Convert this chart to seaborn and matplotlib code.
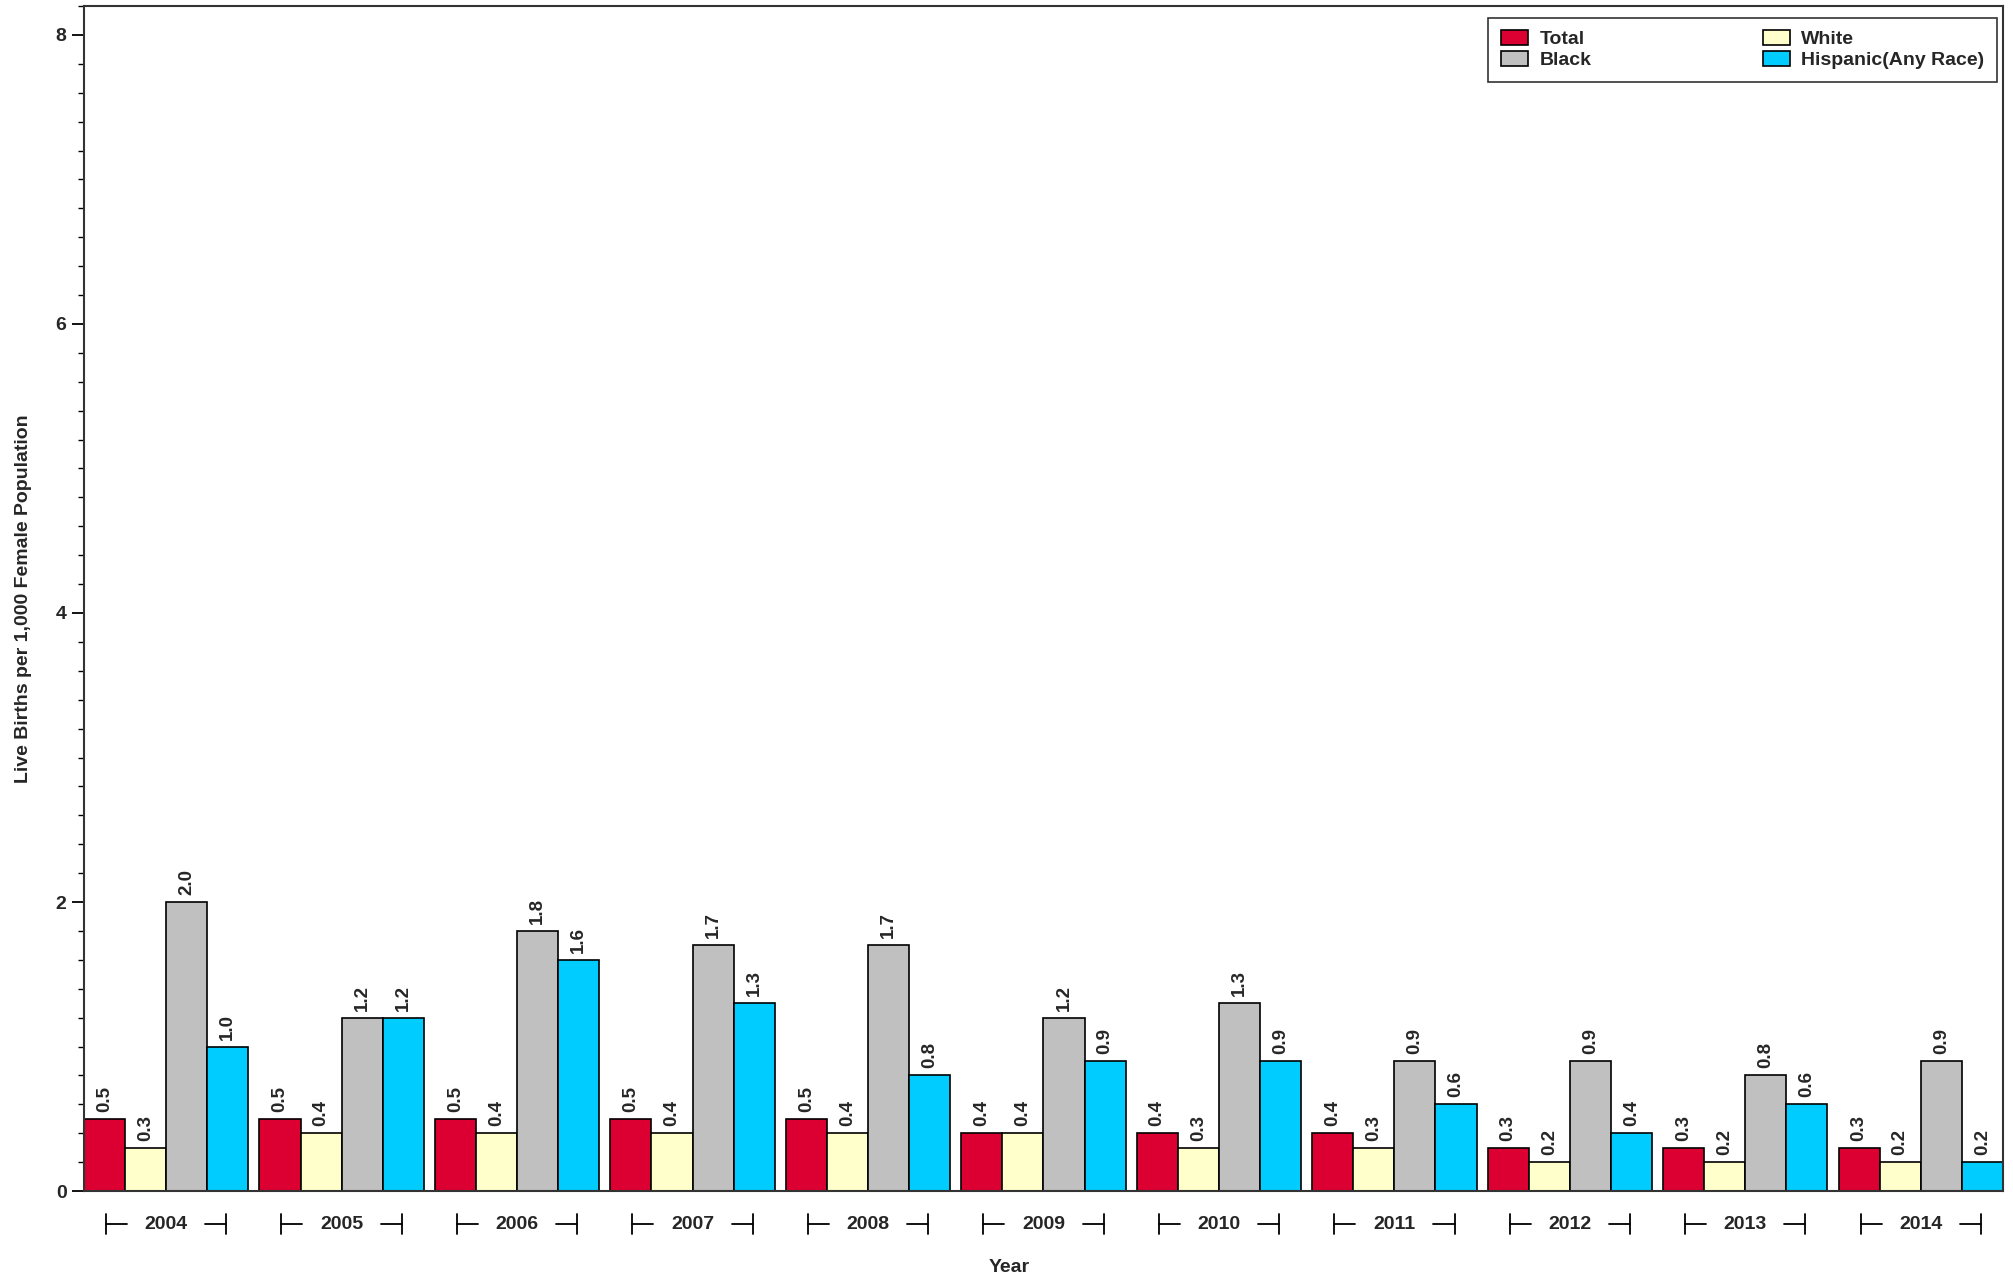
import numpy as np
import pandas as pd
import matplotlib
matplotlib.use("Agg")
import matplotlib.pyplot as plt
import seaborn as sns
from matplotlib.ticker import MultipleLocator
from matplotlib.transforms import blended_transform_factory

years = ["2004", "2005", "2006", "2007", "2008", "2009", "2010", "2011", "2012", "2013", "2014"]
total = [0.5, 0.5, 0.5, 0.5, 0.5, 0.4, 0.4, 0.4, 0.3, 0.3, 0.3]
white = [0.3, 0.4, 0.4, 0.4, 0.4, 0.4, 0.3, 0.3, 0.2, 0.2, 0.2]
black = [2.0, 1.2, 1.8, 1.7, 1.7, 1.2, 1.3, 0.9, 0.9, 0.8, 0.9]
hispanic = [1.0, 1.2, 1.6, 1.3, 0.8, 0.9, 0.9, 0.6, 0.4, 0.6, 0.2]

groups = ["Total", "White", "Black", "Hispanic(Any Race)"]
colors = ["#DC0032", "#FFFFCC", "#C0C0C0", "#00CCFF"]

df = pd.DataFrame({"Year": years, "Total": total, "White": white,
                   "Black": black, "Hispanic(Any Race)": hispanic})
long_df = df.melt(id_vars="Year", var_name="Group", value_name="Rate")

sns.set_theme(style="white")
plt.rcParams['font.family'] = ['Liberation Sans', 'DejaVu Sans']

fig = plt.figure(figsize=(20.13, 12.77), dpi=100)
ax = fig.add_axes([0.0417, 0.0673, 0.9533, 0.928])

width = 0.937
sns.barplot(data=long_df, x="Year", y="Rate", hue="Group", hue_order=groups,
            palette=colors, width=width, gap=0, edgecolor="black", linewidth=1.2,
            saturation=1, ax=ax, legend=True)

for cont in ax.containers:
    ax.bar_label(cont, fmt="%.1f", rotation=90, padding=5,
                 fontsize=13.5, fontweight="bold")

ax.set_xlim(-width / 2, len(years) - 1 + width / 2)
ax.set_ylim(0, 8.2)
ax.yaxis.set_major_locator(MultipleLocator(2))
ax.yaxis.set_minor_locator(MultipleLocator(0.2))
ax.tick_params(axis="y", which="major", length=9, width=1.3, color="black",
               labelsize=14, left=True)
ax.tick_params(axis="y", which="minor", length=4, width=1, color="black", left=True)
ax.tick_params(axis="x", length=0, pad=18, labelsize=14)
for lab in ax.get_xticklabels() + ax.get_yticklabels():
    lab.set_fontweight("bold")

for sp in ax.spines.values():
    sp.set_color("#333333")
    sp.set_linewidth(1.5)

# bracket marks around year labels
trans = blended_transform_factory(ax.transData, ax.transAxes)
y0, y1 = -0.0195, -0.0365
ym = (y0 + y1) / 2
for i in range(len(years)):
    for side in (-1, 1):
        xo = i + side * 0.343
        xi = i + side * 0.223
        ax.plot([xo, xo], [y0, y1], color="black", lw=1.3, transform=trans, clip_on=False)
        ax.plot([xo, xi], [ym, ym], color="black", lw=1.3, transform=trans, clip_on=False)

ax.set_xlabel("Year", fontsize=14, fontweight="bold")
ax.xaxis.set_label_coords(0.482, -0.057)
ax.set_ylabel("Live Births per 1,000 Female Population", fontsize=14,
              fontweight="bold")
ax.yaxis.set_label_coords(-0.027, 0.5)

handles, labels = ax.get_legend_handles_labels()
order = [0, 2, 1, 3]
leg = ax.legend([handles[i] for i in order], [labels[i] for i in order],
                loc="upper right", ncol=2, frameon=True, fancybox=False,
                edgecolor="black", prop={"weight": "bold", "size": 14},
                handlelength=1.4, handleheight=0.75, handletextpad=0.6,
                columnspacing=8.8, labelspacing=0.15, borderpad=0.65,
                borderaxespad=0.0, bbox_to_anchor=(0.997, 0.99))
leg.get_frame().set_linewidth(1.2)

fig.savefig("out.png", dpi=100)
